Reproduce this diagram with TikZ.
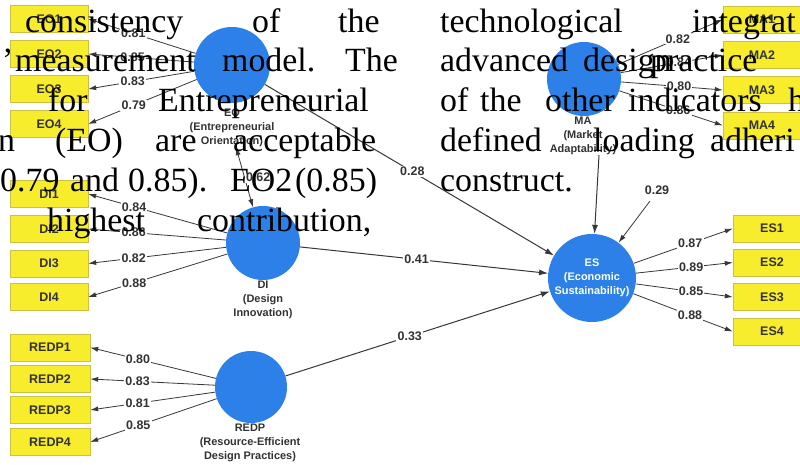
\documentclass[tikz,border=0pt]{standalone}
\usepackage{fontspec}
\usepackage{tikz}
\usetikzlibrary{arrows.meta}
\newfontfamily\diagfont{Liberation Sans}
\newfontfamily\bodyfont{Liberation Serif}
\colorlet{bordercolor}{white}
\definecolor{boxfill}{RGB}{247, 237, 45}
\definecolor{boxedge}{RGB}{205, 192, 70}
\definecolor{latentblue}{RGB}{44, 128, 232}
\definecolor{pathgray}{RGB}{55, 55, 55}
\definecolor{labelgray}{RGB}{50, 50, 50}

\begin{document}
\begin{tikzpicture}[x=1bp, y=-1bp,
        indicator/.style={draw=boxedge, fill=boxfill, minimum width=78bp, minimum height=27bp, inner sep=0pt, text=labelgray, font=\diagfont\bfseries\fontsize{12.5}{14}\selectfont},
        latent/.style={circle, fill=latentblue, inner sep=0pt},
        latentname/.style={anchor=north, align=center, inner sep=0pt, text=labelgray, font=\diagfont\bfseries\fontsize{11}{14}\selectfont},
        coef/.style={fill=white, inner sep=1.2bp, text=labelgray, font=\diagfont\bfseries\fontsize{12.5}{14}\selectfont},
        loading/.style={draw=pathgray, line width=0.8bp, -{Latex[length=8bp,width=5bp]}},
        structural/.style={draw=pathgray, line width=1bp, -{Latex[length=9bp,width=6bp]}},
        bodytext/.style={anchor=base west, inner sep=0pt, font=\bodyfont\fontsize{34}{40}\selectfont}]
        \useasboundingbox[fill=bordercolor] (0, 0) rectangle (800, 465);

        % Constructs {{{
        \node[latent, minimum size=76bp] (EO) at (232, 65) {};
        \node[latent, minimum size=74bp] (DI) at (263, 243) {};
        \node[latent, minimum size=72bp] (REDP) at (251, 387) {};
        \node[latent, minimum size=74bp] (MA) at (584, 79) {};
        \node[latent, minimum size=88bp, text=white, align=center, font=\diagfont\bfseries\fontsize{11}{14}\selectfont] (ES) at (592, 278) {ES\\(Economic\\Sustainability)};

        \node[latentname] (EOname) at (232, 109) {EO\\(Entrepreneurial\\Orientation)};
        \node[latentname] (DIname) at (263, 281) {DI\\(Design\\Innovation)};
        \node[latentname] (REDPname) at (250, 424) {REDP\\(Resource-Efficient\\Design Practices)};
        \node[latentname] (MAname) at (583, 117) {MA\\(Market\\Adaptability)};
        % }}}

        % Indicators and loadings {{{
        \foreach \n/\y/\v in {1/19/0.81, 2/54/0.85, 3/89/0.83, 4/124/0.79} {
                \node[indicator] (EO\n) at (49, \y) {EO\n};
                \draw[loading] (EO) -- node[coef, pos=0.58]{\v} (EO\n.east);
        }
        \foreach \n/\y/\v in {1/194/0.84, 2/229/0.86, 3/263.5/0.82, 4/297/0.88} {
                \node[indicator] (DI\n) at (49, \y) {DI\n};
                \draw[loading] (DI) -- node[coef, pos=0.67]{\v} (DI\n.east);
        }
        \foreach \n/\y/\v in {1/347.5/0.80, 2/379/0.83, 3/410/0.81, 4/442/0.85} {
                \node[indicator, minimum width=80bp] (REDP\n) at (50, \y) {REDP\n};
                \draw[loading] (REDP) -- node[coef, pos=0.62]{\v} (REDP\n.east);
        }
        \foreach \n/\y/\v in {1/19.5/0.82, 2/55/0.84, 3/90/0.80, 4/125.5/0.86} {
                \node[indicator] (MA\n) at (762, \y) {MA\n};
                \draw[loading] (MA) -- node[coef, pos=0.57]{\v} (MA\n.west);
        }
        \foreach \n/\y/\v in {1/228.5/0.87, 2/262.5/0.89, 3/297/0.85, 4/331.5/0.88} {
                \node[indicator] (ES\n) at (772, \y) {ES\n};
                \draw[loading] (ES) -- node[coef, pos=0.57]{\v} (ES\n.west);
        }
        % }}}

        % Inner model {{{
        \draw[structural] (EO) -- node[coef, pos=0.51]{0.28} (ES);
        \draw[structural] (DI) -- node[coef, pos=0.47]{0.41} (ES);
        \draw[structural] (REDP) -- node[coef, pos=0.47]{0.33} (ES);
        \draw[structural] ([xshift=16bp]MAname.south) -- (ES);
        \draw[loading, {Latex[length=8bp,width=5bp]}-{Latex[length=8bp,width=5bp]}] ([xshift=4bp]EOname.south) -- node[coef, pos=0.5, anchor=west]{0.62} (DI);

        \node[coef, fill=none] (R2) at (657, 190) {0.29};
        \coordinate (r2tail) at (650, 201);
        \draw[loading] (r2tail) -- (ES);
        % }}}

        % Running text on top {{{
        \foreach \x/\y/\w [count=\i] in {
                25/33/consistency, 252/33/of, 338/33/the, 440/33/technological, 692/33/integrat,
                2/72/’, 15/72/measurement, 222/72/model., 345/72/The, 440/72/advanced, 583/72/design, 650/72/practice,
                48/112/for, 158/112/Entrepreneurial, 440/112/of, 480/112/the, 545/112/other, 628/112/indicators, 788/112/h,
                -2/152/n, 55/152/(EO), 155/152/are, 233/152/acceptable, 440/152/defined, 593/152/loading, 710/152/adheri,
                0/192/0.79, 70/192/and, 128/192/0.85)., 230/192/EO2, 295/192/(0.85), 440/192/construct.,
                47/232/highest, 197/232/{contribution,}}
                \node[bodytext] (word\i) at (\x, \y) {\w};
        % }}}
\end{tikzpicture}
\end{document}
